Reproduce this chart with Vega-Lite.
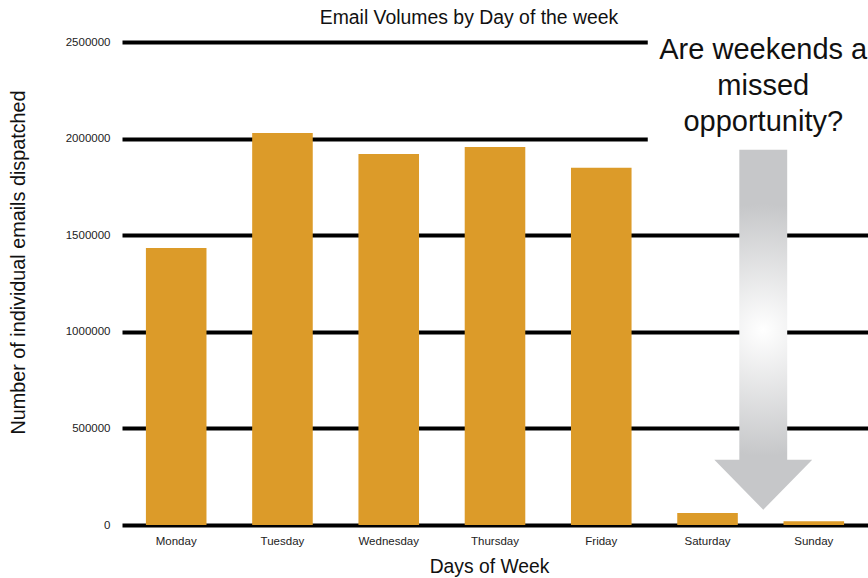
{
  "$schema": "https://vega.github.io/schema/vega-lite/v6.json",
  "width": 746,
  "height": 483,
  "autosize": {"type": "none"},
  "padding": {"left": 122, "top": 42, "right": 0, "bottom": 53},
  "background": "white",
  "config": {"view": {"stroke": null}, "font": "Liberation Sans"},
  "title": {"text": "Email Volumes by Day of the week", "fontSize": 19.4, "fontWeight": "normal", "color": "#111111", "anchor": "middle", "frame": "group", "dx": -26, "offset": 0, "font": "Liberation Sans"},
  "datasets": {
    "emails": [
      {"day": "Monday", "emails": 1434000},
      {"day": "Tuesday", "emails": 2029000},
      {"day": "Wednesday", "emails": 1920000},
      {"day": "Thursday", "emails": 1957000},
      {"day": "Friday", "emails": 1849000},
      {"day": "Saturday", "emails": 62000},
      {"day": "Sunday", "emails": 20000}
    ],
    "note": [
      {"day": "Saturday", "arrow": 1010000, "labelpos": 2459000, "label": "Are weekends a\nmissed\nopportunity?"}
    ]
  },
  "layer": [
    {
      "data": {"name": "emails"},
      "mark": {"type": "bar", "color": "#DC9B29"},
      "encoding": {
        "x": {
          "field": "day", "type": "nominal", "sort": null,
          "scale": {"domain": ["Monday", "Tuesday", "Wednesday", "Thursday", "Friday", "Saturday", "Sunday"], "paddingInner": 0.43, "paddingOuter": 0.225},
          "axis": {"domain": false, "ticks": false, "labelAngle": 0, "labelFontSize": 11.5, "labelColor": "#222222", "labelPadding": 10, "title": "Days of Week", "titleFontSize": 19.3, "titleFontWeight": "normal", "titleColor": "#111111", "titleX": 367, "titleY": 41, "titleAlign": "center", "titleBaseline": "middle"}
        },
        "y": {
          "field": "emails", "type": "quantitative",
          "scale": {"domain": [0, 2500000], "nice": false},
          "axis": {"values": [0, 500000, 1000000, 1500000, 2000000, 2500000], "format": "d", "domain": false, "ticks": false, "grid": true, "gridColor": "#000000", "gridWidth": 4, "gridOpacity": 1, "labelFontSize": 11.5, "labelColor": "#222222", "labelPadding": 12, "title": "Number of individual emails dispatched", "titleFontSize": 19.8, "titleFontWeight": "normal", "titleColor": "#111111", "titleX": -104, "titleY": 220, "titleAngle": -90, "titleAlign": "center", "titleBaseline": "middle"}
        }
      }
    },
    {
      "data": {"name": "note"},
      "mark": {
        "type": "point",
        "shape": "M-0.133,-1L0.133,-1L0.133,0.722L0.272,0.722L0,1L-0.272,0.722L-0.133,0.722Z",
        "size": 129600,
        "filled": true,
        "opacity": 1,
        "strokeWidth": 0,
        "fill": {"gradient": "radial", "x1": 0.5, "y1": 0.5, "r1": 0, "x2": 0.5, "y2": 0.5, "r2": 0.35, "stops": [{"offset": 0, "color": "#ffffff"}, {"offset": 1, "color": "#c6c7c9"}]}
      },
      "encoding": {
        "x": {"field": "day", "type": "nominal", "sort": null, "bandPosition": 1.42},
        "y": {"field": "arrow", "type": "quantitative"}
      }
    },
    {
      "data": {"name": "note"},
      "mark": {
        "type": "point",
        "shape": "M-1.05,-0.2L0.96,-0.2L0.96,0.873L-1.05,0.873Z",
        "size": 48400,
        "filled": true,
        "opacity": 1,
        "strokeWidth": 0,
        "fill": "#ffffff"
      },
      "encoding": {
        "x": {"field": "day", "type": "nominal", "sort": null, "bandPosition": 1.42},
        "y": {"field": "labelpos", "type": "quantitative"}
      }
    },
    {
      "data": {"name": "note"},
      "mark": {"type": "text", "fontSize": 29, "lineHeight": 36, "lineBreak": "\n", "align": "center", "baseline": "middle", "color": "#111111", "font": "Liberation Sans"},
      "encoding": {
        "x": {"field": "day", "type": "nominal", "sort": null, "bandPosition": 1.42},
        "y": {"field": "labelpos", "type": "quantitative"},
        "text": {"field": "label"}
      }
    }
  ]
}
